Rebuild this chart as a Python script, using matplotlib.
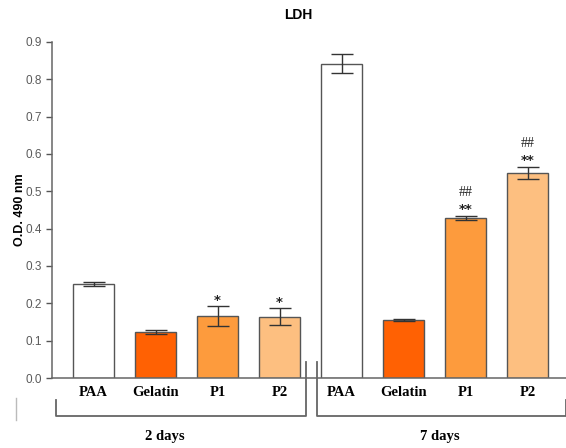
import matplotlib.pyplot as plt
import numpy as np

groups = ["PAA", "Gelatin", "P1", "P2"]
days = ["2 days", "7 days"]
means_2d = [0.252, 0.123, 0.166, 0.164]
errs_2d = [0.005, 0.005, 0.026, 0.023]
means_7d = [0.842, 0.155, 0.429, 0.549]
errs_7d = [0.025, 0.002, 0.006, 0.017]
marks_2d = ["", "", "*", "*"]
marks_7d = ["", "", "**\n##", "**\n##"]
colors = ["#ffffff", "#ff6103", "#fd9b3d", "#fdbf80"]

W, H = 566, 448
fig = plt.figure(figsize=(W / 100, H / 100), dpi=100)
ax = fig.add_axes([52 / W, (H - 378) / H, 1 - 52 / W, (378 - 42) / H])

edge = "#555555"
x = np.arange(8)
means = means_2d + means_7d
errs = errs_2d + errs_7d
ax.bar(x, means, width=0.66, color=colors * 2, edgecolor=edge, linewidth=1.0, zorder=2)
ax.errorbar(x, means, yerr=errs, fmt="none", ecolor="#333333", elinewidth=1.0,
            capsize=8, capthick=1.0, zorder=3)

# significance marks above the error bars
for xi, m, e, s in zip(x, means, errs, marks_2d + marks_7d):
    if not s:
        continue
    lines = s.split("\n")
    y0 = m + e + 0.005
    for k, t in enumerate(lines):
        if t.startswith("#"):
            ax.text(xi, y0 + 0.04 * k, t, ha="center", va="bottom", fontsize=10,
                    family="Liberation Serif", color="#222222")
        else:
            ax.text(xi, y0 + 0.04 * k - 0.006, t, ha="center", va="bottom", fontsize=9.5,
                    fontweight="bold", color="#222222")

ax.set_xlim(-0.67, 7.62)
ax.set_ylim(0, 0.9)
ax.set_yticks(np.arange(0, 0.91, 0.1))
ax.set_yticklabels([f"{v:.1f}" for v in np.arange(0, 0.91, 0.1)], family="Liberation Sans",
                   fontsize=8.5, color="#5a5a5a")
ax.set_xticks(x)
ax.set_xticklabels(groups * 2, family="Liberation Serif", fontweight="bold", fontsize=10.5)
ax.tick_params(axis="x", length=0, pad=6)
ax.tick_params(axis="y", length=4, color=edge, width=1)
for s in ["top", "right"]:
    ax.spines[s].set_visible(False)
for s in ["left", "bottom"]:
    ax.spines[s].set_color("#666666")
    ax.spines[s].set_linewidth(1.1)

ax.set_ylabel("O.D. 490 nm", family="Liberation Sans", fontweight="bold", fontsize=9)
ax.yaxis.set_label_coords(-26 / (W - 52), 0.5)
fig.text(298 / W, 1 - 15 / H, "LDH", family="Liberation Sans", fontweight="bold",
         fontsize=10, ha="center", va="center")

# brackets grouping the days, drawn in pixel-based figure coords
bcol = "#666666"
for (x0, x1, ytop0, ytop1) in [(56, 306, 400, 362), (317, 566, 362, 400)]:
    xs = [x0, x0, x1, x1]
    ys = [ytop0, 416, 416, ytop1]
    fig.add_artist(plt.Line2D([a / W for a in xs], [1 - b / H for b in ys],
                              color=bcol, linewidth=1.3))
fig.add_artist(plt.Line2D([16 / W, 16 / W], [1 - 398 / H, 1 - 420 / H], color="#bbbbbb", linewidth=1))

for label, xp in zip(days, [165, 440]):
    fig.text(xp / W, 1 - 436 / H, label, family="Liberation Serif", fontweight="bold",
             fontsize=10.5, ha="center", va="center")

fig.savefig("out.png", dpi=100)
